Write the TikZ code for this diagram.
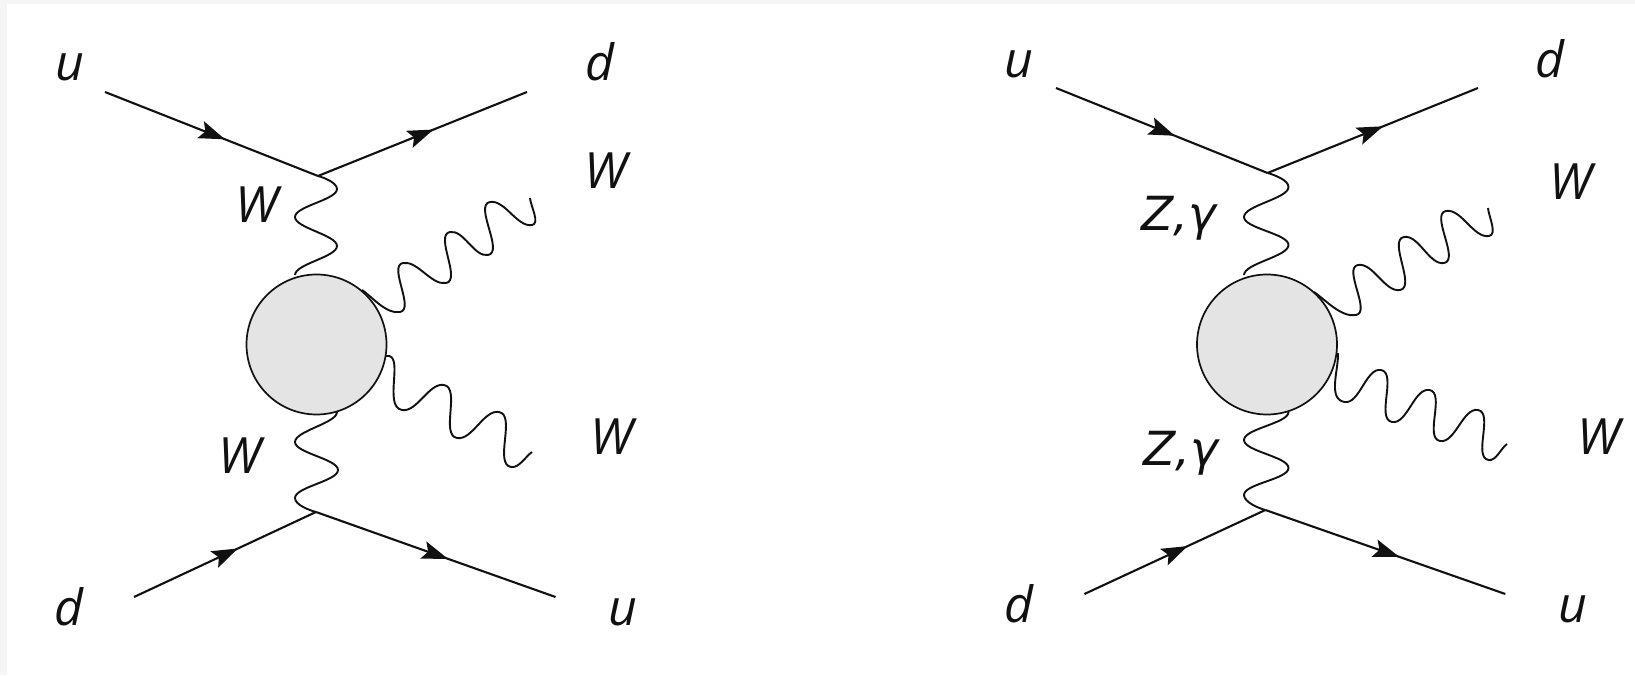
\documentclass[tikz,border=0pt]{standalone}
\usepackage{fontspec}
\setmainfont{Open Sans}
\newfontfamily\zfont{DejaVu Sans}
\usetikzlibrary{arrows.meta,decorations.markings}
\definecolor{blobfill}{HTML}{E4E4E4}
\definecolor{edgegrey}{HTML}{F5F5F5}
\definecolor{inkcol}{HTML}{111111}
\tikzset{
  x=1pt,y=1pt,
  lab/.style={font=\fontsize{50}{50}\selectfont\itshape,inner sep=0pt,text=inkcol},
  zlab/.style={font=\fontsize{47}{47}\zfont\itshape,inner sep=0pt,text=inkcol},
  fermion/.style={draw=inkcol,line width=2.1pt},
  midarrow/.style={postaction={decorate,decoration={markings,mark=at position #1 with {\arrow{Stealth[length=26pt,width=18pt,inset=5pt]}}}}},
  boson/.style={draw=inkcol,line width=1.9pt,line join=round},
  up/.style={out=10,in=190,looseness=.8},
  dn/.style={out=-10,in=170,looseness=.8},
  vw/.style={out=-90,in=90,looseness=0.55},
  blob/.style={circle,draw=inkcol,line width=1.7pt,fill=blobfill,minimum size=140pt,inner sep=0pt},
}
\begin{document}
\begin{tikzpicture}
\useasboundingbox (0,0) rectangle (1635,675);
\fill[white] (0,0) rectangle (1635,675);
\fill[edgegrey] (0,0) rectangle (7,675);
\fill[edgegrey] (0,671) rectangle (1635,675);

% left diagram
\coordinate (a1) at (105,583);
\coordinate (v1) at (318,499);
\coordinate (b1) at (527,583);
\coordinate (a2) at (134,78);
\coordinate (v2) at (316,163);
\coordinate (b2) at (555.5,78);
\coordinate (s1) at (362,385);
\coordinate (e1) at (530,477);
\coordinate (s2) at (386,319);
\coordinate (e2) at (532,223);
\coordinate (s3) at (295,400);
\coordinate (s4) at (337,263);
\draw[fermion,midarrow=0.563] (a1) -- (v1);
\draw[fermion,midarrow=0.553] (v1) -- (b1);
\draw[fermion,midarrow=0.571] (a2) -- (v2);
\draw[fermion,midarrow=0.551] (v2) -- (b2);
\draw[boson] (v1) to[out=-15,in=90,looseness=.7] (337,486) to[vw] (295,458) to[vw] (337,429) to[vw] (s3);
\draw[boson] (s4) to[vw] (295,233) to[vw] (338,205) to[vw] (295,177) to[out=-90,in=165,looseness=.7] (v2);
\draw[boson] (s1) to[out=-35,in=190,looseness=.8] (400,363) to[up] (403,412) to[up] (446,392) to[up] (450,443) to[up] (488,420) to[up] (490,473) to[up] (532,450) to[out=10,in=-85,looseness=.8] (e1);
\draw[boson] (s2) to[out=10,in=170,looseness=.9] (402,265) to[dn] (444,290) to[dn] (457,237) to[dn] (499,263) to[dn] (511,208) to[out=-10,in=215,looseness=.8] (e2);
\node[blob] (c1) at (316.5,330.5) {};
\node[lab] (lu1) at (69.5,608) {u};
\node[lab] (ld1) at (600,613) {d};
\node[lab] (lw1) at (606,504) {W};
\node[lab] (lw2) at (257,470) {W};
\node[lab] (lw3) at (612,238) {W};
\node[lab] (lw4) at (240,219) {W};
\node[lab] (ld2) at (69,68) {d};
\node[lab] (lu2) at (623,63) {u};

% right diagram
\coordinate (a3) at (1056,587);
\coordinate (v3) at (1267.5,502);
\coordinate (b3) at (1478,587);
\coordinate (a4) at (1084.4,81);
\coordinate (v4) at (1265.4,165);
\coordinate (b4) at (1505.3,81);
\coordinate (s5) at (1314,383);
\coordinate (e5) at (1488,467);
\coordinate (s6) at (1338,322);
\coordinate (e6) at (1507,231);
\coordinate (s7) at (1244,400);
\coordinate (s8) at (1288.5,263);
\draw[fermion,midarrow=0.562] (a3) -- (v3);
\draw[fermion,midarrow=0.549] (v3) -- (b3);
\draw[fermion,midarrow=0.57] (a4) -- (v4);
\draw[fermion,midarrow=0.558] (v4) -- (b4);
\draw[boson] (v3) to[out=-15,in=90,looseness=.7] (1288.5,488) to[vw] (1244,458) to[vw] (1288.5,430) to[vw] (s7);
\draw[boson] (s8) to[vw] (1244,235) to[vw] (1288.5,207) to[vw] (1244,180) to[out=-90,in=165,looseness=.7] (v4);
\draw[boson] (s5) to[out=-35,in=190,looseness=.8] (1356,360) to[up] (1358,410) to[up] (1400,385) to[up] (1404,438) to[up] (1444,412) to[up] (1446,464) to[up] (1489,439) to[out=10,in=-85,looseness=.8] (e5);
\draw[boson] (s6) to[out=-88,in=170,looseness=.9] (1344.5,273) to[dn] (1381,305) to[dn] (1392,253) to[dn] (1429.5,285) to[dn] (1440,234) to[dn] (1478,265) to[dn] (1488.5,215) to[out=-10,in=215,looseness=.8] (e6);
\node[blob] (c2) at (1267,330.5) {};
\node[lab] (lu3) at (1019,611) {u};
\node[lab] (ld3) at (1550,616) {d};
\node[lab] (lw5) at (1571,493) {W};
\node[zlab] (lz1) at (1179,457) {Z,γ};
\node[zlab] (lz2) at (1181,222) {Z,γ};
\node[lab] (lw6) at (1599,238) {W};
\node[lab] (ld4) at (1019,71) {d};
\node[lab] (lu4) at (1573,66) {u};
\end{tikzpicture}
\end{document}
